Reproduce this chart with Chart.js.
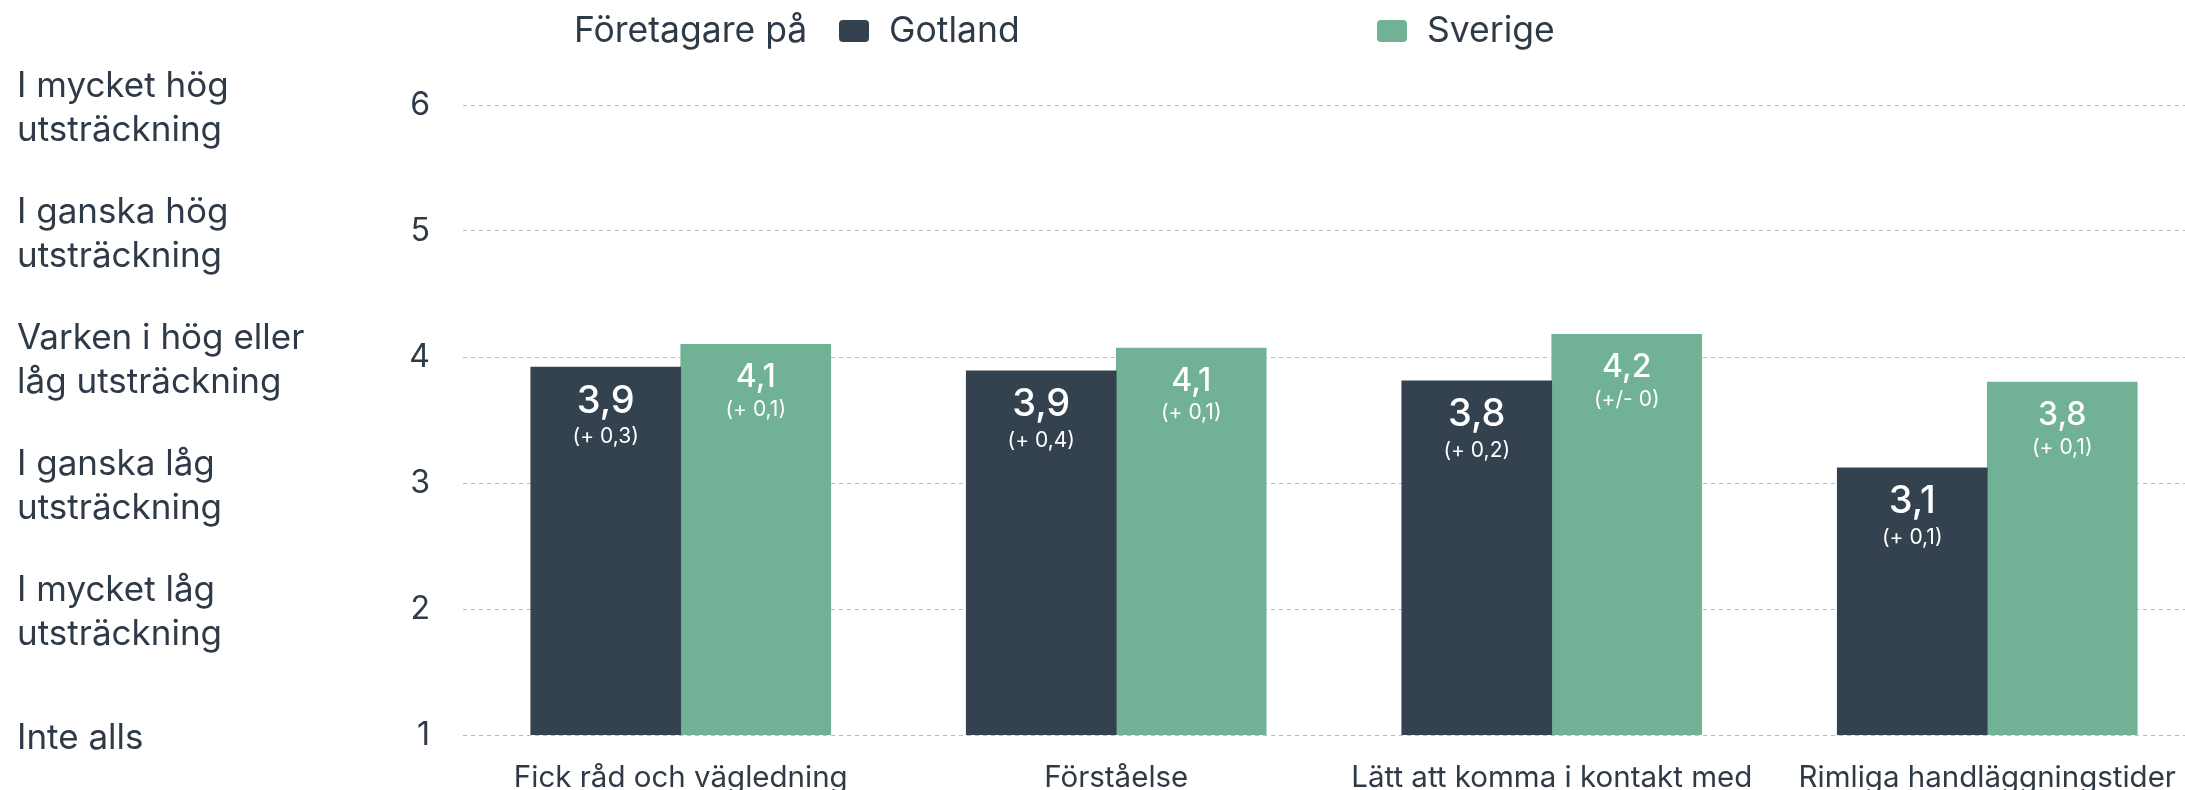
<!DOCTYPE html>
<html lang="sv">
<head>
    <meta charset="UTF-8">
    <title>Företagare på Gotland och i Sverige</title>
    <style>
        html, body { margin: 0; padding: 0; background: #fff; overflow: hidden; }
        #wrap { width: 2205px; height: 790px; position: relative; }
    </style>
</head>
<body>
    <div id="wrap"><canvas id="myChart"></canvas></div>

    <script src="https://cdn.jsdelivr.net/npm/chart.js@4.4.1/dist/chart.umd.min.js"></script>
    <script>
        const categories = ['Fick råd och vägledning', 'Förståelse', 'Lätt att komma i kontakt med', 'Rimliga handläggningstider']
        const seriesNames = ['Gotland', 'Sverige']
        const gotland = [3.92, 3.89, 3.81, 3.12]
        const sverige = [4.10, 4.07, 4.18, 3.80]
        const gotlandChange = ['(+ 0,3)', '(+ 0,4)', '(+ 0,2)', '(+ 0,1)']
        const sverigeChange = ['(+ 0,1)', '(+ 0,1)', '(+/- 0)', '(+ 0,1)']
        const scaleTicks = [1, 2, 3, 4, 5, 6]
        const scaleLabels = [
            ['Inte alls'],
            ['I mycket låg', 'utsträckning'],
            ['I ganska låg', 'utsträckning'],
            ['Varken i hög eller', 'låg utsträckning'],
            ['I ganska hög', 'utsträckning'],
            ['I mycket hög', 'utsträckning']
        ]
        const legendTitle = 'Företagare på'

        const textColor = '#2f3a48'
        const FONT = 'Inter'
        Chart.defaults.font.family = FONT
        Chart.defaults.color = textColor

        // legend row at the top: title text followed by the two series
        const headerLegend = {
            id: 'headerLegend',
            afterDraw(chart, args, opts) {
                const ctx = chart.ctx
                ctx.save()
                ctx.font = opts.fontSize + 'px ' + FONT
                ctx.textBaseline = 'middle'
                ctx.textAlign = 'left'
                ctx.fillStyle = textColor
                ctx.fillText(opts.title, opts.titleX, opts.y)
                chart.data.datasets.forEach((ds, i) => {
                    const bx = opts.itemX[i]
                    ctx.fillStyle = ds.backgroundColor
                    ctx.beginPath()
                    ctx.roundRect(bx, opts.y - opts.boxH / 2, opts.boxW, opts.boxH, 4)
                    ctx.fill()
                    ctx.fillStyle = textColor
                    ctx.fillText(ds.label, bx + opts.boxW + opts.gap, opts.y)
                })
                ctx.restore()
            }
        }

        // value + change written inside the top of every bar
        const barLabels = {
            id: 'barLabels',
            afterDatasetsDraw(chart, args, opts) {
                const ctx = chart.ctx
                ctx.save()
                ctx.fillStyle = '#fff'
                ctx.textAlign = 'center'
                ctx.textBaseline = 'middle'
                chart.data.datasets.forEach((ds, i) => {
                    const meta = chart.getDatasetMeta(i)
                    meta.data.forEach((bar, j) => {
                        const {x, y} = bar.getProps(['x', 'y'], true)
                        ctx.font = '500 ' + opts.valueSize[i] + 'px ' + FONT
                        ctx.fillText(ds.data[j].toFixed(1).replace('.', ','), x, y + opts.valueOffset[i])
                        ctx.font = opts.changeSize + 'px ' + FONT
                        ctx.fillText(ds.changes[j], x, y + opts.changeOffset[i])
                    })
                })
                ctx.restore()
            }
        }

        const ctx = document.getElementById('myChart').getContext('2d')
        const chart = new Chart(ctx, {
            type: 'bar',
            data: {
                labels: categories,
                datasets: [{
                    label: seriesNames[0],
                    data: gotland,
                    changes: gotlandChange,
                    backgroundColor: '#34414f'
                }, {
                    label: seriesNames[1],
                    data: sverige,
                    changes: sverigeChange,
                    backgroundColor: '#71b296'
                }]
            },
            options: {
                responsive: true,
                maintainAspectRatio: false,
                animation: false,
                layout: { padding: { left: 17, top: 105, right: 0, bottom: 0 } },
                datasets: { bar: { barThickness: 150 } },
                plugins: {
                    legend: { display: false },
                    tooltip: { enabled: false },
                    headerLegend: {
                        title: legendTitle, titleX: 574, itemX: [839, 1377], y: 31,
                        fontSize: 35.5, boxW: 30, boxH: 22, gap: 20
                    },
                    barLabels: {
                        valueSize: [38, 32], changeSize: 21,
                        valueOffset: [34, 33], changeOffset: [70, 65]
                    }
                },
                scales: {
                    x: {
                        grid: { display: false },
                        border: { display: false },
                        ticks: { font: { size: 29.5 }, padding: 17, maxRotation: 0, autoSkip: false },
                        afterFit: a => { a.height = 55 }
                    },
                    y: {
                        position: 'left',
                        weight: 0,
                        min: 1,
                        max: 6,
                        ticks: { stepSize: 1, padding: 33, font: { size: 32 } },
                        grid: { color: '#bdbdbd', drawTicks: false, lineWidth: 1 },
                        border: { display: false, dash: [4, 4] },
                        afterFit: a => { a.width = 80 }
                    },
                    yText: {
                        position: 'left',
                        weight: 1,
                        min: 1,
                        max: 6,
                        grid: { display: false, drawTicks: false },
                        border: { display: false },
                        ticks: {
                            stepSize: 1,
                            autoSkip: false,
                            crossAlign: 'far',
                            padding: 0,
                            labelOffset: 3,
                            font: { size: 35, lineHeight: 1.257 },
                            callback: v => scaleLabels[scaleTicks.indexOf(v)]
                        },
                        afterFit: a => { a.width = 366 }
                    }
                }
            },
            plugins: [headerLegend, barLabels]
        })
    </script>
</body>
</html>
